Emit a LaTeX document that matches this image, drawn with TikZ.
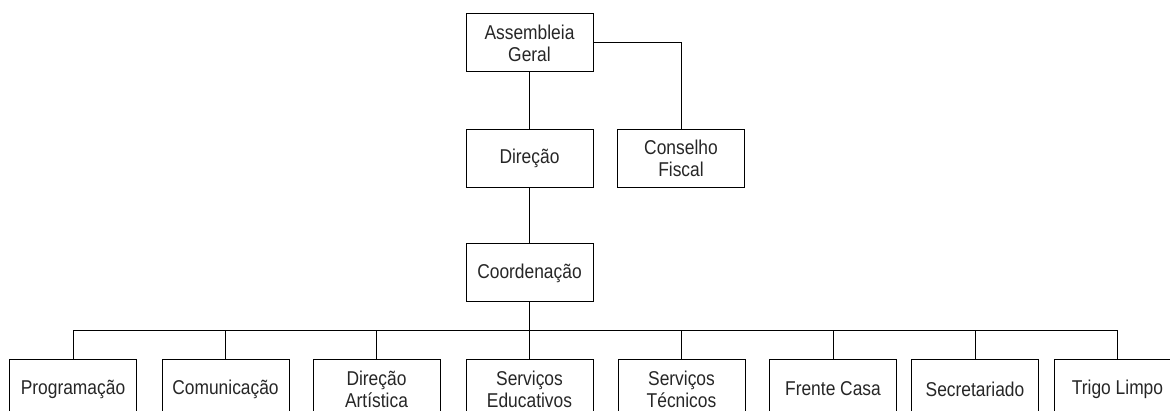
\documentclass[tikz,border=0pt]{standalone}
\usepackage{fontspec}
\setmainfont{Liberation Sans}[FakeStretch=0.87]
\begin{document}
\begin{tikzpicture}[x=1pt,y=-1pt,
  box/.style={draw=black, line width=1pt, minimum width=127pt, minimum height=58pt,
    inner sep=0pt, align=center, font=\fontsize{20}{22}\selectfont, text=black!85},
  link/.style={draw=black, line width=1pt}]
\useasboundingbox (0,0) rectangle (1170,411);
\node[box] (ag) at (529.5,43) {Assembleia\\Geral};
\node[box] (dir) at (529.5,158.5) {Direção};
\node[box] (cf) at (681,158.5) {Conselho\\Fiscal};
\node[box] (co) at (529.5,273) {Coordenação};
\coordinate (bus) at (0,331);
\node[box] (prog) at (73,389) {Programação};
\node[box] (com) at (225.5,389) {Comunicação};
\node[box] (da) at (376.5,389) {Direção\\Artística};
\node[box] (se) at (529.5,389) {Serviços\\Educativos};
\node[box] (st) at (681.5,389) {Serviços\\Técnicos};
\node[box] (fc) at (833,389) {Frente Casa};
\node[box] (sec) at (975,389) {Secretariado};
\node[box] (tl) at (1117.5,389) {Trigo Limpo};
\draw[link] (ag.south) -- (dir.north);
\draw[link] (ag.east) -| (cf.north);
\draw[link] (dir.south) -- (co.north);
\draw[link] (co.south) -- (se.north);
\draw[link] (prog.north |- bus) -- (tl.north |- bus);
\foreach \n in {prog,com,da,st,fc,sec,tl}
  \draw[link] (\n.north) -- (\n.north |- bus);
\end{tikzpicture}
\end{document}
